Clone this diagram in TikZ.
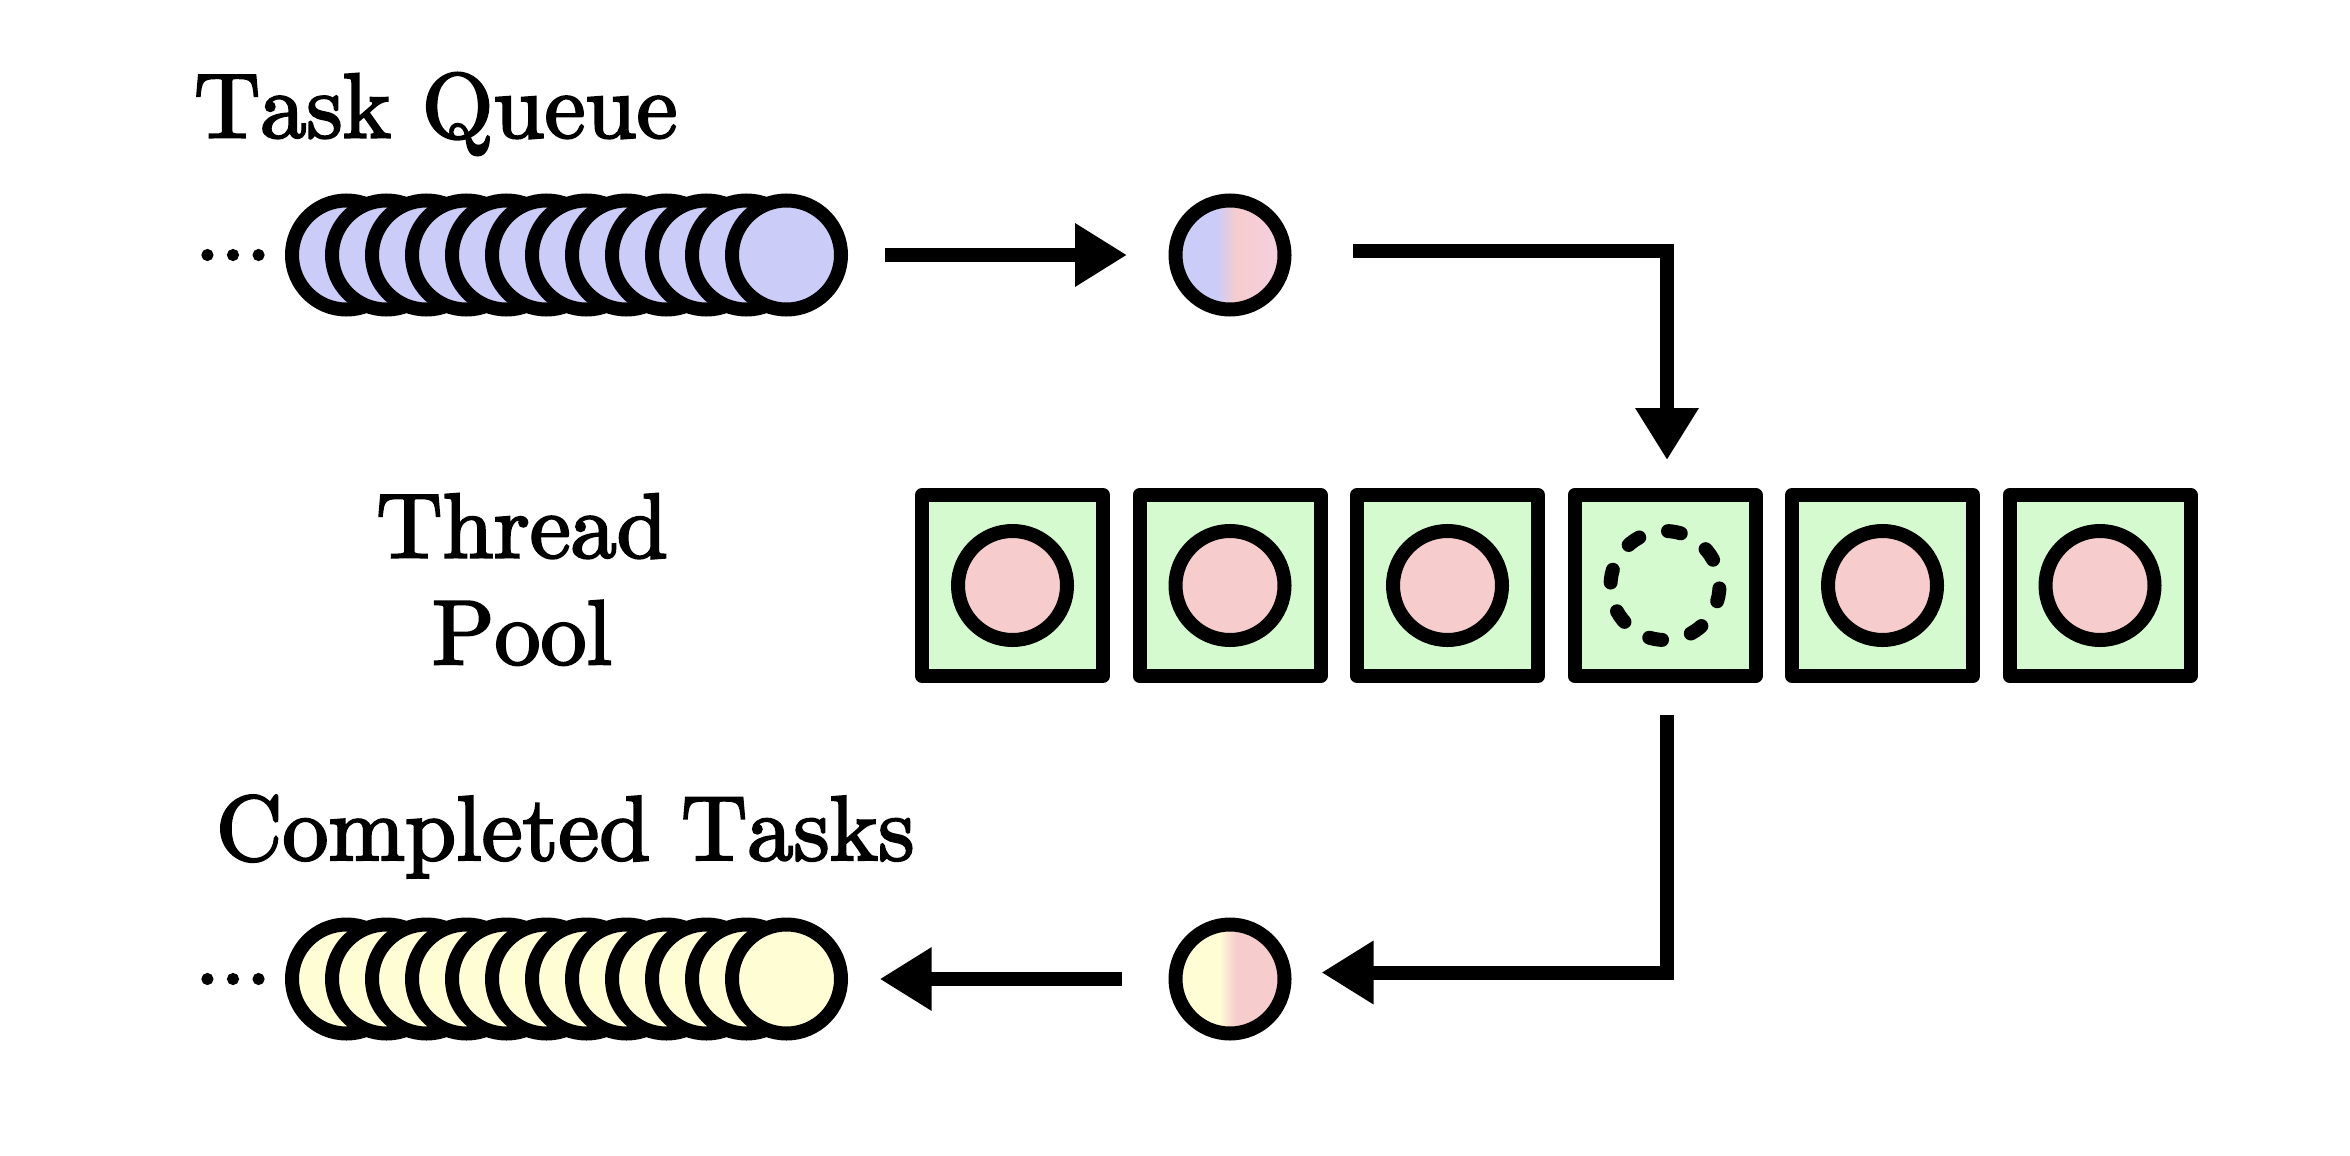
\documentclass[tikz,border=0pt]{standalone}
\usepackage{fontspec}
\newfontfamily\lmheavy{Latin Modern Roman}[FakeBold=2.5, Kerning=Off]
\usetikzlibrary{arrows.meta}
\definecolor{qblue}{RGB}{204,204,248}
\definecolor{qpink}{RGB}{246,204,205}
\definecolor{qmag}{RGB}{246,208,228}
\definecolor{qgreen}{RGB}{213,250,208}
\definecolor{qyellow}{RGB}{255,253,212}
\pgfdeclarehorizontalshading{bluepink}{100bp}{color(0bp)=(qblue); color(44bp)=(qblue); color(53bp)=(qpink); color(75bp)=(qmag); color(100bp)=(qmag)}
\pgfdeclarehorizontalshading{yellowpink}{100bp}{color(0bp)=(qyellow); color(45bp)=(qyellow); color(53bp)=(qpink); color(100bp)=(qpink)}
\begin{document}
\begin{tikzpicture}[x=0.5pt, y=-0.5pt,
  ball/.style={circle, draw=black, line width=7pt, minimum size=54.5pt, inner sep=0pt, outer sep=0pt},
  poolbox/.style={rectangle, draw=black, fill=qgreen, line width=7pt, line join=round, minimum size=90.5pt, inner sep=0pt, outer sep=0pt},
  idle/.style={circle, draw=black, line width=7pt, line cap=round, dash pattern=on 6.5pt off 14.9pt, dash phase=8pt, minimum size=54.5pt, inner sep=0pt, outer sep=0pt},
  lbl/.style={font=\lmheavy\fontsize{10}{11.6}\selectfont, scale=4.6, inner sep=0pt, outer sep=0pt},
  arr/.style={line width=7pt, -{Triangle[length=26pt, width=30pt]}}]
\useasboundingbox (0,0) rectangle (2350,1156);
% labels
\node[lbl, anchor=base west] (lq) at (194,137.5) {Task Queue};
\node[lbl, anchor=center, align=center] (lp) at (522,579.5) {Thread\\Pool};
\node[lbl, anchor=base west] (lc) at (216,860) {Completed Tasks};
\node[lbl] (d1) at (233,255) {...};
\node[lbl] (d2) at (233,979) {...};
% queues
\foreach \i in {1,...,12} {
  \node[ball, fill=qblue] (q\i) at ({346.5+40*(\i-1)},255) {};
}
\foreach \i in {1,...,12} {
  \node[ball, fill=qyellow] (b\i) at ({346.5+40*(\i-1)},979) {};
}
% moving tasks
\node[ball, shading=bluepink] (m1) at (1230,255) {};
\node[ball, shading=yellowpink] (m2) at (1230,979) {};
% thread pool
\foreach \i in {1,...,6} {
  \node[poolbox] (t\i) at ({1012.5+217.5*(\i-1)},585.5) {};
}
\foreach \i in {1,2,3,5,6} {
  \node[ball, fill=qpink] (w\i) at (t\i.center) {};
}
\node[idle] (w4) at (t4.center) {};
% connectors
\draw[arr, shorten <=22pt, shorten >=24.25pt] (q12) -- (m1);
\draw[arr] ([xshift=34.25pt, yshift=2pt]m1.east) -| ([xshift=1pt, yshift=17.5pt]t4.north);
\draw[arr] ([xshift=1pt, yshift=-19.5pt]t4.south) |- ([xshift=18.5pt, yshift=3.25pt]m2.east);
\draw[arr, shorten <=26.9pt, shorten >=19.35pt] (m2) -- (b12);
\end{tikzpicture}
\end{document}
